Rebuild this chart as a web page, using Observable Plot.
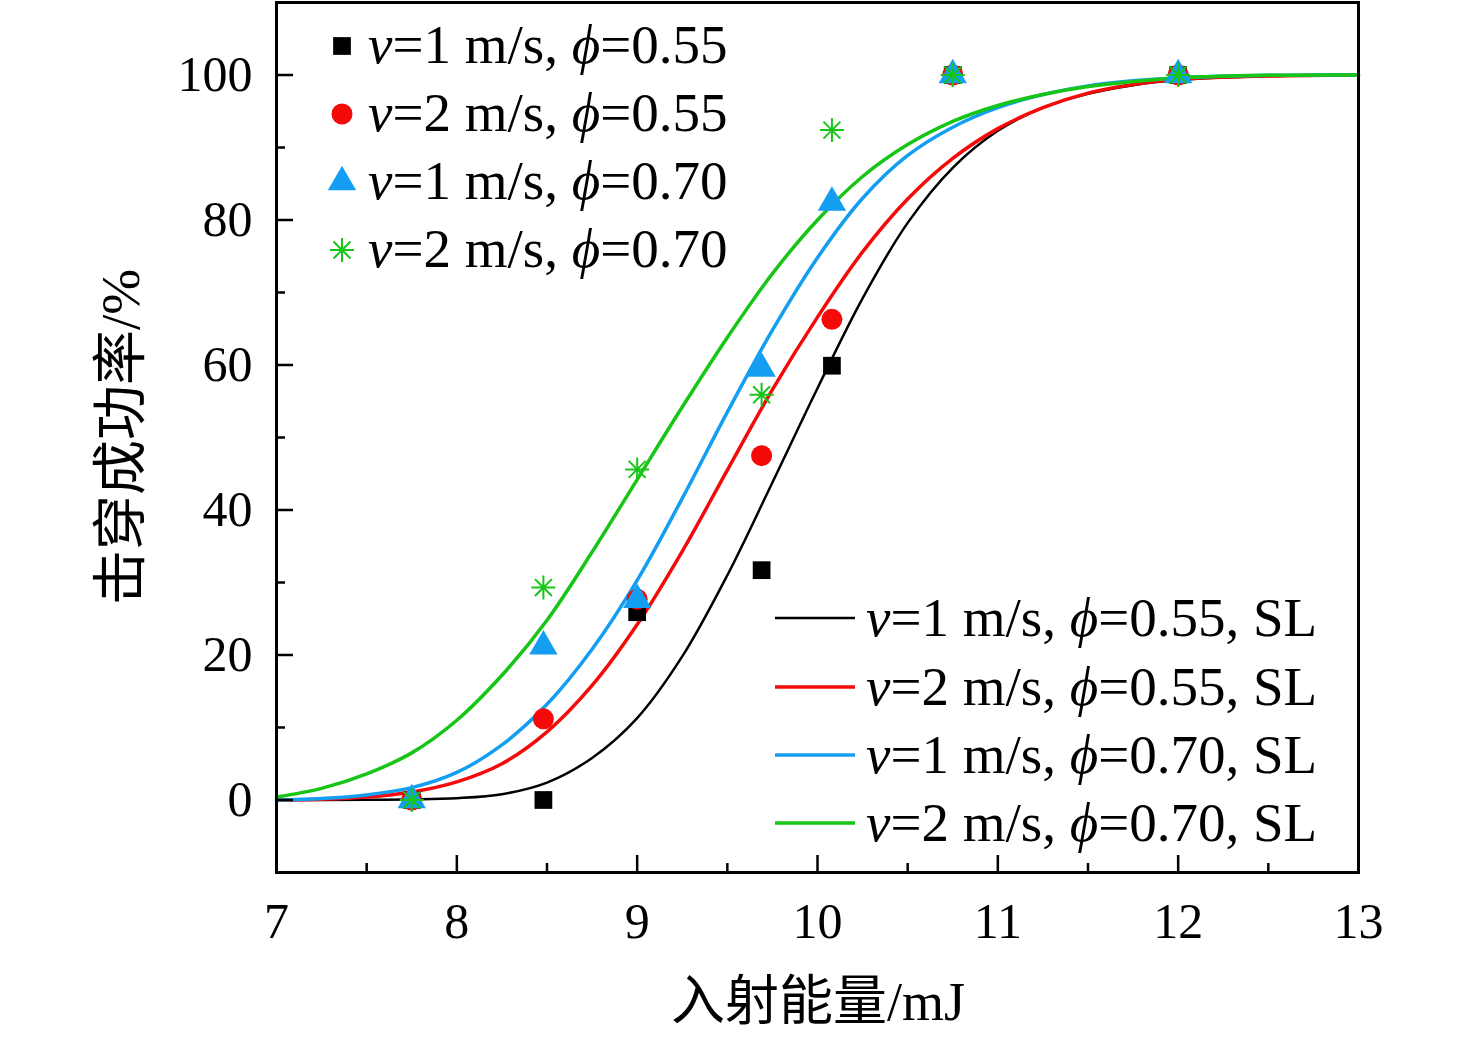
<!DOCTYPE html>
<html><head><meta charset="utf-8">
<script src="https://cdn.jsdelivr.net/npm/d3@7"></script>
<script src="https://cdn.jsdelivr.net/npm/@observablehq/plot@0.6"></script>
<style>body{margin:0;background:#fff}</style>
</head><body><div id="chart"></div>
<script>
// ---- data ----
const energy = [7.75, 8.48, 9.0, 9.69, 10.08, 10.75, 12.0];
const pV1P055 = [0, 0, 25.9, 31.7, 59.9, 100, 100];
const pV2P055 = [0, 11.2, 27.7, 47.5, 66.3, 100, 100];
const pV1P070 = [0, 21.2, 27.6, 59.5, 82.4, 100, 100];
const pV2P070 = [0, 29.3, 45.6, 55.9, 92.4, 100, 100];

const curveE = [7, 7.25, 7.5, 7.75, 8, 8.25, 8.5, 8.75, 9, 9.25, 9.5, 9.75, 10, 10.25, 10.5, 10.75, 11, 11.25, 11.5, 11.75, 12, 12.5, 13];
const slV1P055 = [0, 0, 0.02, 0.08, 0.25, 0.8, 2.4, 5.8, 11.3, 19.8, 31, 43.8, 56.8, 69.2, 79.6, 87.2, 92.3, 95.5, 97.4, 98.6, 99.3, 99.85, 100];
const slV2P055 = [0, 0.1, 0.4, 1.1, 2.5, 5.0, 9.4, 15.8, 24.2, 34.3, 45.5, 56.6, 66.6, 75.6, 82.9, 88.5, 92.6, 95.5, 97.5, 98.7, 99.4, 99.85, 100];
const slV1P070 = [0, 0.2, 0.7, 1.7, 3.8, 7.6, 13.2, 20.8, 30.3, 41.6, 53.5, 64.8, 74.8, 83, 88.9, 92.8, 95.5, 97.3, 98.5, 99.2, 99.6, 99.95, 100];
const slV2P070 = [0.4, 1.6, 3.6, 6.5, 11, 17.2, 24.8, 34.2, 44.2, 54.2, 63.8, 72.6, 80.0, 86.0, 90.4, 93.6, 95.8, 97.3, 98.4, 99.1, 99.6, 99.95, 100];

const xTicks = [7, 8, 9, 10, 11, 12, 13];
const xMinor = [7.5, 8.5, 9.5, 10.5, 11.5, 12.5];
const yTicks = [0, 20, 40, 60, 80, 100];
const yMinor = [10, 30, 50, 70, 90];

const legendV = ["1", "2", "1", "2"];
const legendPhi = ["0.55", "0.55", "0.70", "0.70"];
const colors = ["#000000", "#f50a0a", "#139ef2", "#16c516"];
const xLabel = "入射能量/mJ";
const yLabel = "击穿成功率/%";

// ---- build ----
const serif = "'Liberation Serif','Times New Roman','Noto Sans CJK SC',serif";
const asterisk = {draw(ctx, size) {
  const r = Math.sqrt(size / Math.PI), d = r * Math.SQRT1_2;
  ctx.moveTo(0, -r); ctx.lineTo(0, r);
  ctx.moveTo(-r, 0); ctx.lineTo(r, 0);
  ctx.moveTo(-d, -d); ctx.lineTo(d, d);
  ctx.moveTo(-d, d); ctx.lineTo(d, -d);
}};

const pts = (ys) => energy.map((e, i) => ({e, p: ys[i]}));
const crv = (ys) => curveE.map((e, i) => ({e, p: ys[i]}));
const curves = [slV1P055, slV2P055, slV1P070, slV2P070];
const lineWidths = [2.5, 3.5, 3.5, 3.5];

const W = 1476, H = 1037, ML = 276, MR = 118, MT = 2, MB = 165;
const frameW = W - ML - MR, frameH = H - MT - MB;

const chart = Plot.plot({
  width: W, height: H, marginLeft: ML, marginRight: MR, marginTop: MT, marginBottom: MB,
  style: {fontFamily: serif, background: "white", color: "black"},
  x: {domain: [7, 13]},
  y: {domain: [-10, 110]},
  marks: [
    ...curves.map((c, i) => Plot.line(crv(c), {x: "e", y: "p", stroke: colors[i], strokeWidth: lineWidths[i], curve: "catmull-rom"})),
    Plot.dot(pts(pV1P055), {x: "e", y: "p", symbol: "square", r: 10, fill: colors[0]}),
    Plot.dot(pts(pV2P055), {x: "e", y: "p", symbol: "circle", r: 10.5, fill: colors[1]}),
    Plot.dot(pts(pV1P070), {x: "e", y: "p", symbol: "triangle", r: 10.5, fill: colors[2]}),
    Plot.dot(pts(pV2P070), {x: "e", y: "p", symbol: asterisk, r: 12, stroke: colors[3], strokeWidth: 2, fill: "none"}),
    Plot.tickX(xTicks, {x: d => d, insetTop: frameH - 17, strokeWidth: 2.5}),
    Plot.tickX(xMinor, {x: d => d, insetTop: frameH - 9, strokeWidth: 2.5}),
    Plot.tickY(yTicks, {y: d => d, insetRight: frameW - 17, strokeWidth: 2.5}),
    Plot.tickY(yMinor, {y: d => d, insetRight: frameW - 9, strokeWidth: 2.5}),
    Plot.axisX(xTicks, {tickSize: 0, tickPadding: 30, fontSize: 50, label: null, tickFormat: d => String(d)}),
    Plot.axisY(yTicks, {tickSize: 0, tickPadding: 24, fontSize: 50, label: null, tickFormat: d => String(d)}),
    Plot.frame({stroke: "black", strokeWidth: 3})
  ]
});
document.getElementById("chart").appendChild(chart);

const svg = d3.select(chart);
// axis titles
svg.append("text").attr("x", 818).attr("y", 1020).attr("text-anchor", "middle")
  .attr("font-size", 54).attr("font-family", serif).attr("fill", "black").text(xLabel);
svg.append("text").attr("transform", "translate(139,437) rotate(-90)").attr("text-anchor", "middle")
  .attr("font-size", 55).attr("font-family", serif).attr("fill", "black").text(yLabel);

function legendText(g, x, y, i, suffix) {
  const t = g.append("text").attr("x", x).attr("y", y).attr("font-size", 55)
    .attr("text-anchor", "start").attr("font-family", serif).attr("fill", "black");
  t.append("tspan").attr("font-style", "italic").text("v");
  t.append("tspan").text("=" + legendV[i] + " m/s, ");
  t.append("tspan").attr("font-style", "italic").text("ϕ");
  t.append("tspan").text("=" + legendPhi[i] + suffix);
}
// symbol legend (top-left)
const symTypes = [d3.symbolSquare, d3.symbolCircle, d3.symbolTriangle, asterisk];
const symR = [10, 10.5, 10.5, 12];
const lg1 = svg.append("g").attr("text-anchor", "start");
[46, 114, 182, 250].forEach((y, i) => {
  const p = lg1.append("path").attr("transform", `translate(342,${y})`)
    .attr("d", d3.symbol(symTypes[i], Math.PI * symR[i] * symR[i])());
  if (i === 3) p.attr("fill", "none").attr("stroke", colors[i]).attr("stroke-width", 2);
  else p.attr("fill", colors[i]);
  legendText(lg1, 368, y + 17, i, "");
});
// line legend (bottom-right)
const lg2 = svg.append("g").attr("text-anchor", "start");
[618, 687, 755, 823].forEach((y, i) => {
  lg2.append("line").attr("x1", 775).attr("x2", 855).attr("y1", y).attr("y2", y)
    .attr("stroke", colors[i]).attr("stroke-width", lineWidths[i]);
  legendText(lg2, 866, y + 18, i, ", SL");
});
</script>
</body></html>
